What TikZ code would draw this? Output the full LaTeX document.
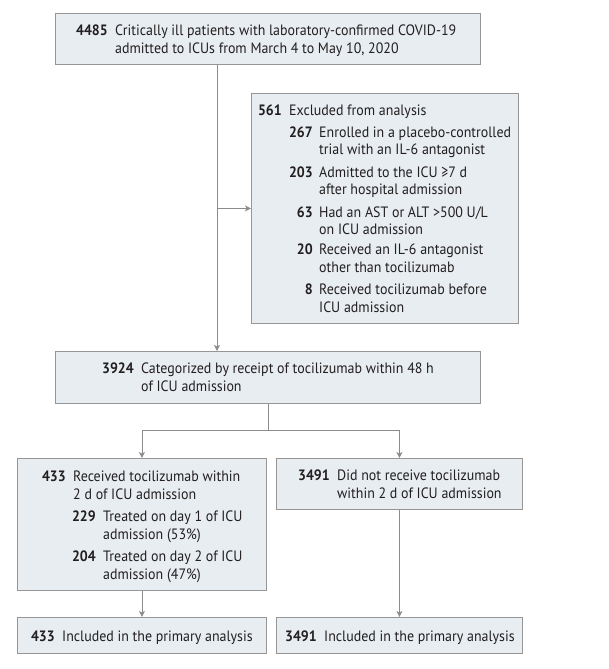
\documentclass[tikz,border=0pt]{standalone}
\usepackage{fontspec}
\setmainfont[FakeStretch=0.93]{PT Sans}
\usetikzlibrary{arrows.meta}
\definecolor{boxfill}{RGB}{231,237,241}
\definecolor{boxline}{RGB}{150,150,150}
\definecolor{arrline}{RGB}{140,140,140}
\definecolor{txtcol}{RGB}{35,31,32}
\tikzset{
  box/.style={draw=boxline, fill=boxfill, line width=0.9pt, inner sep=0pt, anchor=north west},
  txt/.style={inner sep=0pt, anchor=base west, text=txtcol, font=\fontsize{15}{18}\selectfont},
  num/.style={inner sep=0pt, anchor=base east, text=txtcol, font=\fontsize{15}{18}\selectfont\bfseries},
  conn/.style={draw=arrline, line width=0.9pt},
  arr/.style={conn, -{Stealth[length=6pt,width=6pt,inset=1.5pt]}}
}
\newcommand\Tx[4]{\node[txt] (#1) at (#2,#3) {#4};}
\newcommand\Nm[4]{\node[num] (#1) at (#2,#3) {#4};}
\begin{document}
\begin{tikzpicture}[x=1pt,y=-1pt]
\useasboundingbox (0,0) rectangle (609,669);
% boxes
\node[box, minimum width=425pt, minimum height=51pt] (top) at (55,13) {};
\node[box, minimum width=267pt, minimum height=230pt] (excl) at (251,93) {};
\node[box, minimum width=425pt, minimum height=52pt] (cat) at (55,351) {};
\node[box, minimum width=249pt, minimum height=132pt] (left) at (17,458) {};
\node[box, minimum width=246pt, minimum height=51pt] (right) at (276,458) {};
\node[box, minimum width=249pt, minimum height=36pt] (botl) at (17,617) {};
\node[box, minimum width=246pt, minimum height=36pt] (botr) at (276,617) {};
% top text
\Nm{n4485}{108}{36}{4485}
\Tx{t4485a}{115}{36}{Critically ill patients with laboratory-confirmed COVID-19}
\Tx{t4485b}{115}{54}{admitted to ICUs from March 4 to May 10, 2020}
% excluded text
\Nm{n561}{282}{115}{561}
\Tx{t561}{289}{115}{Excluded from analysis}
\Nm{n267}{313}{137}{267}
\Tx{t267a}{319}{137}{Enrolled in a placebo-controlled}
\Tx{t267b}{319}{154}{trial with an IL-6 antagonist}
\Nm{n203}{313}{177}{203}
\Tx{t203a}{319}{177}{Admitted to the ICU ≥7 d}
\Tx{t203b}{319}{194}{after hospital admission}
\Nm{n63}{313}{217}{63}
\Tx{t63a}{319}{217}{Had an AST or ALT >500 U/L}
\Tx{t63b}{319}{234}{on ICU admission}
\Nm{n20}{313}{254}{20}
\Tx{t20a}{319}{254}{Received an IL-6 antagonist}
\Tx{t20b}{319}{272}{other than tocilizumab}
\Nm{n8}{313}{294}{8}
\Tx{t8a}{319}{294}{Received tocilizumab before}
\Tx{t8b}{319}{312}{ICU admission}
% categorized
\Nm{n3924}{134}{373}{3924}
\Tx{t3924a}{141}{373}{Categorized by receipt of tocilizumab within 48 h}
\Tx{t3924b}{141}{391}{of ICU admission}
% left
\Nm{n433}{66}{481}{433}
\Tx{t433a}{73}{481}{Received tocilizumab within}
\Tx{t433b}{73}{499}{2 d of ICU admission}
\Nm{n229}{96}{521}{229}
\Tx{t229a}{103}{521}{Treated on day 1 of ICU}
\Tx{t229b}{103}{539}{admission (53\%)}
\Nm{n204}{96}{561}{204}
\Tx{t204a}{103}{561}{Treated on day 2 of ICU}
\Tx{t204b}{103}{579}{admission (47\%)}
% right
\Nm{n3491}{330}{480}{3491}
\Tx{t3491a}{337}{480}{Did not receive tocilizumab}
\Tx{t3491b}{337}{498}{within 2 d of ICU admission}
% bottom
\Nm{nbl}{55}{641}{433}
\Tx{tbl}{62}{641}{Included in the primary analysis}
\Nm{nbr}{317}{641}{3491}
\Tx{tbr}{324}{641}{Included in the primary analysis}
% connectors
\coordinate (s1) at (217,0);
\draw[arr] (s1 |- top.south) -- (s1 |- cat.north);
\draw[arr] (s1 |- excl.west) -- (excl.west);
\draw[conn] (cat.south) -- ++(0,27) coordinate (br);
\draw[arr] (br) -| (left.north);
\draw[arr] (br) -| (right.north);
\draw[arr] (left.south) -- (botl.north);
\draw[arr] (right.south) -- (botr.north);
\end{tikzpicture}
\end{document}
